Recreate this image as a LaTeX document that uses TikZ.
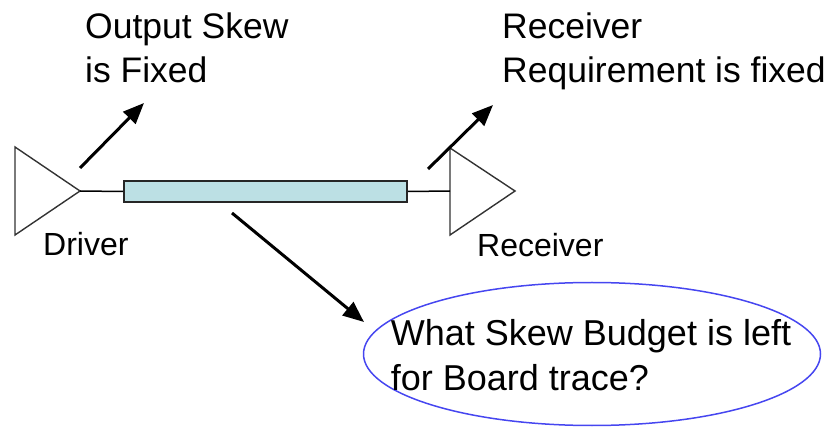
\documentclass[tikz,border=0pt]{standalone}
\usepackage{fontspec}
\setmainfont{Liberation Sans}
\usetikzlibrary{arrows.meta,shapes.geometric}
\definecolor{tracefill}{RGB}{188,224,228}
\definecolor{ellblue}{RGB}{70,70,240}
\tikzset{
  buf/.style={draw=black!80, line width=1.4pt, line join=miter},
  wire/.style={draw=black, line width=1.5pt},
  callout/.style={draw=black, line width=3pt, -{Triangle[length=21pt,width=17pt]}},
  bigtext/.style={font=\fontsize{35.5}{44}\selectfont, inner sep=0pt, anchor=base west, align=left},
  smalltext/.style={font=\fontsize{32}{36}\selectfont, inner sep=0pt, anchor=base west},
}
\begin{document}
\begin{tikzpicture}[x=1pt,y=-1pt]
\useasboundingbox (0,0) rectangle (830,427);
% driver
\coordinate (drvtop) at (15,147);
\coordinate (drvbot) at (15,235);
\coordinate (drv) at (80,191);
\draw[buf] (drvtop) -- (drv) -- (drvbot) -- cycle;
% receiver
\coordinate (rcvtop) at (450,148);
\coordinate (rcvbot) at (450,235);
\coordinate (rcvtip) at (515,191);
\coordinate (rcv) at (450,191);
\draw[buf] (rcvtop) -- (rcvtip) -- (rcvbot) -- cycle;
% trace
\node[draw=black!85, line width=2pt, fill=tracefill, minimum width=283pt, minimum height=21pt, inner sep=0pt] (trace) at (265.5,191.5) {};
\draw[wire] (drv) -- (trace.west);
\draw[wire] (trace.east) -- (rcv);
% labels
\node[smalltext] (drvlbl) at (43,256) {Driver};
\node[smalltext] (rcvlbl) at (477,257) {Receiver};
\node[bigtext] (outskew) at (85,83) {Output Skew\\is Fixed};
\node[bigtext] (rcvreq) at (502,83) {Receiver\\Requirement is fixed};
% ellipse
\node[draw=ellblue, line width=1.5pt, ellipse, minimum width=457pt, minimum height=143pt, inner sep=0pt] (budget) at (592,354) {};
\node[font=\fontsize{36}{45}\selectfont, align=left, inner sep=0pt] (budgettext) at (591,355) {What Skew Budget is left\\for Board trace?};
% arrows
\coordinate (a1s) at (80,168);
\coordinate (a1e) at (144,103);
\coordinate (a2s) at (428,169);
\coordinate (a2e) at (493,105);
\coordinate (a3s) at (232,213);
\coordinate (a3e) at (364,322);
\draw[callout] (a1s) -- (a1e);
\draw[callout] (a2s) -- (a2e);
\draw[callout] (a3s) -- (a3e);
\end{tikzpicture}
\end{document}
